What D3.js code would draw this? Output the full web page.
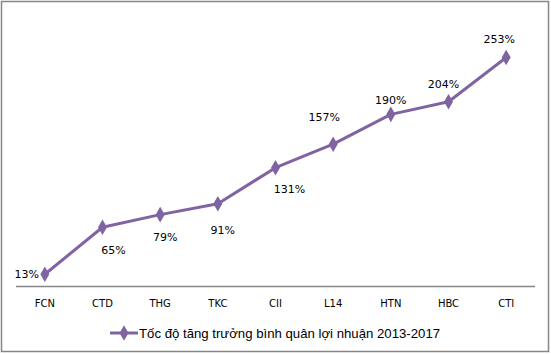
<!DOCTYPE html>
<html><head><meta charset="utf-8">
<script src="https://cdn.jsdelivr.net/npm/d3@7"></script>
<style>body{margin:0;background:#fff}svg{display:block}</style>
</head><body>
<svg id="c" width="551" height="354"></svg>
<script>
const categories = ["FCN","CTD","THG","TKC","CII","L14","HTN","HBC","CTI"];
const values = [13,65,79,91,131,157,190,204,253];
const seriesName = "Tốc độ tăng trưởng bình quân lợi nhuận 2013-2017";
// label placement (layout only)
const labelOffsets = [[-18,0],[11,23],[5,23],[5,26],[14,21],[-9,-27],[0,-14],[-5,-18],[-7,-18]];

const svg = d3.select("#c");
const W = 551, H = 354;
svg.append("rect").attr("x",1.5).attr("y",1.5).attr("width",W-4).attr("height",H-4)
  .attr("fill","#fff").attr("stroke","#868686").attr("stroke-width",1.5);

const x = d3.scaleBand().domain(categories).range([16,535]);
const y = d3.scaleLinear().domain([0,300]).range([286,15]);
const cx = d => x(d) + x.bandwidth()/2;

svg.append("line").attr("x1",16).attr("x2",535).attr("y1",286.5).attr("y2",286.5)
  .attr("stroke","#868686").attr("stroke-width",1.5);

const ax = svg.append("g").attr("transform","translate(0,286)")
  .call(d3.axisBottom(x).tickSize(0).tickPadding(14));
ax.select(".domain").remove();
ax.selectAll("text").attr("font-family","DejaVu Sans").attr("font-size",10).attr("fill","#000");

const color = "#8064A2";
const line = d3.line().x((d,i)=>cx(categories[i])).y(d=>y(d));
svg.append("path").datum(values).attr("d",line).attr("fill","none")
  .attr("stroke",color).attr("stroke-width",3).attr("stroke-linejoin","round");

const sym = d3.symbol().type(d3.symbolDiamond).size(70);
svg.selectAll(".m").data(values).join("path").attr("class","m")
  .attr("transform",(d,i)=>`translate(${cx(categories[i])},${y(d)})`)
  .attr("d",sym).attr("fill",color);

svg.selectAll(".lbl").data(values).join("text").attr("class","lbl")
  .attr("x",(d,i)=>cx(categories[i])+labelOffsets[i][0])
  .attr("y",(d,i)=>y(d)+labelOffsets[i][1])
  .attr("dy","0.35em").attr("text-anchor","middle")
  .attr("font-family","DejaVu Sans").attr("font-size",11).attr("fill","#000")
  .text(d=>d+"%");

// legend
const lg = svg.append("g").attr("transform","translate(110,333)");
lg.append("line").attr("x1",0).attr("x2",28).attr("stroke",color).attr("stroke-width",3);
lg.append("path").attr("transform","translate(14,0)").attr("d",sym).attr("fill",color);
lg.append("text").attr("x",29).attr("dy","0.35em").attr("font-family","Liberation Sans")
  .attr("font-size",13.2).attr("fill","#000").text(seriesName);
</script>
</body></html>
